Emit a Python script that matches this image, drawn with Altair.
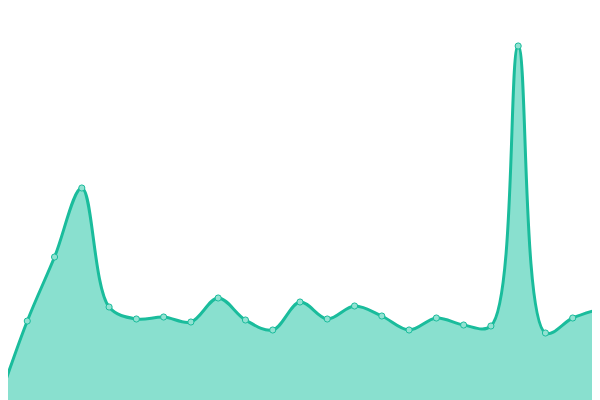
import altair as alt
import pandas as pd

idx = list(range(23))
vals = [3, 79, 143, 212, 93, 81, 83, 78, 102, 80, 70, 98, 81, 94, 84, 70, 82, 75, 74, 354, 67, 82, 91]

df = pd.DataFrame({"i": idx, "v": vals})

step = 600 / 22
x = alt.X("i:Q", axis=None, scale=alt.Scale(domain=[8 / step, 592 / step], nice=False, zero=False))
y = alt.Y("v:Q", axis=None, scale=alt.Scale(domain=[0, 392], nice=False))

area = alt.Chart(df).mark_area(
    interpolate="catmull-rom", color="#89e0cf", opacity=1,
    line={"color": "#1abc9c", "strokeWidth": 3}
).encode(x=x, y=y)

pts = alt.Chart(df).mark_point(
    filled=True, fill="#92e2d2", stroke="#1abc9c", strokeWidth=1, size=38, opacity=1
).encode(x=x, y=y)

chart = (area + pts).properties(
    width=584, height=392,
    padding=0,
    autosize=alt.AutoSizeParams(type="none"),
    background="white",
).configure_view(stroke=None)

chart.save("out.html", embed_options={"renderer": "svg", "actions": False})
